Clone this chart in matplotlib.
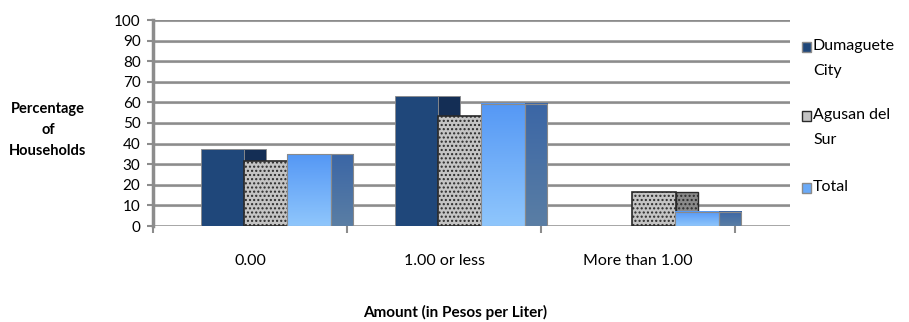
import numpy as np
import matplotlib
matplotlib.use('Agg')
import matplotlib.pyplot as plt
from matplotlib.patches import Rectangle

plt.rcParams['font.family'] = ['Lato', 'DejaVu Sans']

categories = ['0.00', '1.00 or less', 'More than 1.00']
series = ['Dumaguete\nCity', 'Agusan del\nSur', 'Total']
dumaguete = [37.5, 63.3, 0.0]
agusan = [31.5, 53.3, 16.5]
total = [34.8, 59.3, 7.0]
yticks = list(range(0, 101, 10))

fig = plt.figure(figsize=(9.09, 3.22), dpi=100)
ax = fig.add_axes([153 / 909, 1 - 226 / 322, 637 / 909, 206 / 322])
ax.set_xlim(0, 637 / 194)
ax.set_ylim(0, 100)

# gridlines (back wall)
for v in yticks:
    ax.axhline(v, color='#8c8c8c', lw=1.8, zorder=1)
    ax.axhline(v - 0.5, color='#d0d0d0', lw=0.8, zorder=0.9)

front_w = 0.225
side_w = 0.115
offsets = [0.245, 0.471, 0.693]


def gradient_bar(x0, w, h, top, bottom):
    if h <= 0:
        return
    c1 = np.array(matplotlib.colors.to_rgb(top))
    c2 = np.array(matplotlib.colors.to_rgb(bottom))
    t = np.linspace(0, 1, 64)[:, None]
    img = (c1 * (1 - t) + c2 * t)[:, None, :]
    img = np.repeat(img, 2, axis=1)
    ax.imshow(img, extent=[x0, x0 + w, 0, h], aspect='auto', zorder=3,
              interpolation='bilinear')
    ax.add_patch(Rectangle((x0, 0), w, h, fill=False, edgecolor='#8a8a8a', lw=0.8, zorder=3.1))


for i in range(len(categories)):
    # Dumaguete City
    x = i + offsets[0]
    h = dumaguete[i]
    if h > 0:
        ax.add_patch(Rectangle((x + front_w, 0), side_w, h, facecolor='#142e55',
                               edgecolor='#8a8a8a', lw=0.6, zorder=2))
        ax.add_patch(Rectangle((x, 0), front_w, h, facecolor='#1f477a',
                               edgecolor='#8a8a8a', lw=0.6, zorder=2.1))
    # Agusan del Sur
    x = i + offsets[1]
    h = agusan[i]
    ax.add_patch(Rectangle((x + front_w, 0), side_w, h, facecolor='#8a8a8a',
                           edgecolor='#2a2a2a', hatch='....', lw=1.0, zorder=2.2))
    ax.add_patch(Rectangle((x, 0), front_w, h, facecolor='#c4c4c4',
                           edgecolor='#2a2a2a', hatch='....', lw=1.2, zorder=2.3))
    # Total
    x = i + offsets[2]
    h = total[i]
    gradient_bar(x + front_w, side_w, h, '#3b66a6', '#5a7ea4')
    gradient_bar(x, front_w, h, '#5598f5', '#8fc6fc')

# axes
for s in ['top', 'right', 'bottom']:
    ax.spines[s].set_visible(False)
ax.spines['left'].set_color('#8c8c8c')
ax.spines['left'].set_linewidth(2.5)
ax.set_yticks(yticks)
ax.tick_params(axis='y', length=4, width=1.5, color='#8c8c8c', labelsize=11, pad=5)
ax.set_xticks([0, 1, 2, 3])
ax.set_xticklabels([])
ax.tick_params(axis='x', length=5, width=1.5, color='#8c8c8c', direction='out')
ax.set_xticks([0.5, 1.5, 2.5], minor=True)
ax.set_xticklabels(categories, minor=True)
ax.tick_params(axis='x', which='minor', length=0, labelsize=11.5, pad=20)

fig.text(48 / 909, 1 - 130 / 322, 'Percentage\nof\nHouseholds', ha='center', va='center',
         fontsize=10.5, fontweight='bold', linespacing=1.6)
fig.text(455 / 909, 1 - 312 / 322, 'Amount (in Pesos per Liter)', ha='center', va='center',
         fontsize=11, fontweight='bold')

# legend
legend_y = [47, 116, 188]
faces = ['#1f477a', '#c4c4c4', '#6aaaf8']
edges = ['#8a8a8a', '#2a2a2a', '#8a8a8a']
for lab, y, fc, ec in zip(series, legend_y, faces, edges):
    fig.patches.append(Rectangle((802 / 909, 1 - (y + 5) / 322), 9 / 909, 10 / 322,
                                 facecolor=fc, edgecolor=ec, lw=1.0,
                                 transform=fig.transFigure, figure=fig))
    fig.text(813 / 909, 1 - (y - 8) / 322, lab, ha='left', va='top', fontsize=11.5,
             linespacing=2.0)

fig.savefig('out.png', dpi=100)
